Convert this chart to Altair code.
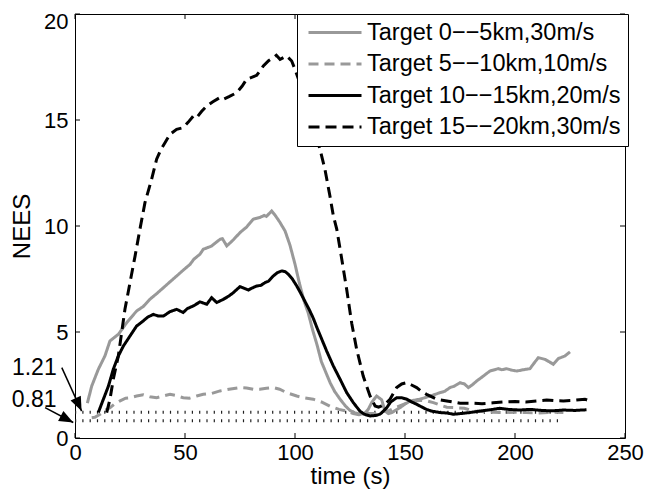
import altair as alt
import pandas as pd

FONT = "Liberation Sans"

names = ["Target 0−−5km,30m/s", "Target 5−−10km,10m/s",
         "Target 10−−15km,20m/s", "Target 15−−20km,30m/s"]
colors = ["#999999", "#999999", "#000000", "#000000"]
dashes = [[1, 0], [10, 6], [1, 0], [11, 6]]

# Target 0--5km (gray solid)
t1 = [5.6, 7.6, 10.6, 13.6, 15.9, 19.7, 23.5, 28, 31, 34, 37, 40.2, 43, 46.2, 49, 52.3, 54, 56.8,
      58.3, 62, 65.9, 67, 69, 72, 75, 78, 81, 84, 86, 87, 89.4, 91, 93, 95.5, 97.7, 100, 102, 104,
      106, 108, 110, 112, 114, 116, 118, 120.5, 123, 125, 127, 129.5, 131.5, 133.3, 135, 137.1,
      139.4, 140.9, 142.5, 144, 147.7, 150, 152.3, 156.8, 159, 161.4, 163.5, 165.9, 168, 170.5,
      172.5, 175, 177, 178.8, 180.5, 182.6, 185.6, 188.6, 192.4, 194, 196.2, 198.5, 200.8, 203.8,
      206.8, 208.8, 210.6, 213.6, 215.5, 217.4, 219.7, 221, 222.7, 225]
v1 = [1.64, 2.45, 3.24, 3.87, 4.58, 4.89, 5.44, 5.99, 6.2, 6.54, 6.8, 7.09, 7.35, 7.64, 7.9, 8.19,
      8.43, 8.67, 8.9, 9.05, 9.37, 9.4, 9.06, 9.35, 9.69, 9.95, 10.32, 10.4, 10.5, 10.45, 10.71,
      10.5, 10.2, 9.76, 9.1, 8.2, 7.3, 6.5, 5.9, 5.1, 4.4, 3.6, 3.1, 2.6, 2.2, 1.83, 1.5, 1.3, 1.2,
      1.12, 1.15, 1.35, 1.7, 1.98, 1.8, 1.27, 1.15, 1.2, 1.43, 1.6, 1.75, 1.83, 1.9, 1.98, 2.05,
      2.14, 2.2, 2.38, 2.45, 2.61, 2.55, 2.38, 2.5, 2.69, 2.92, 3.16, 3.27, 3.22, 3.27, 3.2, 3.16,
      3.22, 3.27, 3.55, 3.79, 3.71, 3.6, 3.48, 3.75, 3.8, 3.87, 4.06]

# Target 5--10km (gray dashed)
t2 = [7.6, 9, 11.4, 13.5, 15.9, 18, 20.5, 23, 25, 28, 31, 34, 37.1, 40, 43.2, 46, 49.2, 52, 55.3,
      58.3, 62, 65.9, 70, 75, 78, 81, 84, 87, 90.1, 93, 96.2, 100.8, 104, 108.3, 112, 115.9, 120,
      123.5, 126.5, 129, 132.6, 136, 138.6, 143, 146, 150.8, 154, 156.8, 160, 162.9, 166, 169,
      173.5, 177, 181, 185, 190, 195, 200, 205, 210, 215, 218, 222]
v2 = [0.96, 0.98, 1.12, 1.3, 1.43, 1.6, 1.75, 1.88, 1.9, 1.98, 2.04, 1.95, 1.9, 1.98, 2.06, 2.0,
      1.9, 1.88, 1.98, 2.06, 2.1, 2.22, 2.3, 2.38, 2.36, 2.3, 2.3, 2.35, 2.38, 2.3, 2.14, 1.98, 1.9,
      1.83, 1.7, 1.5, 1.35, 1.27, 1.15, 1.1, 1.15, 1.15, 1.22, 1.3, 1.45, 1.65, 1.72, 1.78, 1.75,
      1.67, 1.55, 1.45, 1.43, 1.4, 1.27, 1.25, 1.22, 1.2, 1.22, 1.2, 1.18, 1.2, 1.22, 1.2]

# Target 10--15km (black solid)
t3 = [10.6, 12.9, 15.2, 17.4, 19.7, 22, 25, 28, 31, 33, 35.6, 38, 40.2, 43, 46.2, 49.2, 51, 53.8,
      56.8, 59.9, 62.1, 64.4, 67.4, 70, 72, 75, 78.8, 80, 82.6, 84.5, 86.4, 88, 90.1, 92, 94, 95.5,
      97, 98.8, 100.8, 102.5, 104.5, 106.5, 108.3, 110, 112, 114.4, 117.4, 120.5, 123.5, 126.5,
      129.5, 131.5, 134.1, 136.5, 138.6, 140, 141.7, 143.5, 146.2, 148.5, 150.8, 153, 155.3, 157.5,
      159.8, 162, 165.9, 169, 172, 175, 179.5, 184, 188, 193, 197, 202, 207, 212, 217, 222, 227,
      232.5]
v3 = [1.2, 1.83, 2.45, 3.24, 3.87, 4.34, 4.81, 5.28, 5.52, 5.7, 5.83, 5.75, 5.75, 5.95, 6.07, 5.92,
      6.1, 6.23, 6.42, 6.31, 6.62, 6.39, 6.54, 6.7, 6.86, 7.14, 6.98, 7.05, 7.17, 7.2, 7.33, 7.4,
      7.64, 7.8, 7.88, 7.85, 7.72, 7.5, 7.17, 6.85, 6.45, 6.05, 5.65, 5.2, 4.7, 4.1, 3.4, 2.77, 2.14,
      1.67, 1.27, 1.12, 1.04, 1.06, 1.12, 1.25, 1.43, 1.7, 1.9, 1.9, 1.83, 1.7, 1.59, 1.47, 1.35,
      1.27, 1.2, 1.18, 1.12, 1.15, 1.2, 1.27, 1.32, 1.4, 1.35, 1.32, 1.35, 1.3, 1.28, 1.32, 1.3,
      1.33]

# Target 15--20km (black dashed)
t4 = [14.4, 15.9, 17.4, 19.7, 21.2, 22.7, 25, 27.3, 29.5, 31.8, 34.8, 37.1, 39, 40.9, 43.2, 46.2,
      49.2, 51.5, 53.8, 55.3, 57.5, 59.9, 62.5, 65.9, 67.4, 70, 73.5, 76, 78, 80, 82.6, 84, 85.6,
      88, 90.1, 91.5, 93.2, 96.2, 98.5, 100, 102, 104, 106, 108, 111.4, 113.6, 115.9, 117.4, 119,
      121, 123.5, 125.8, 128, 131, 134.1, 136.4, 138, 139.4, 141, 143.2, 146.2, 148.5, 150.8, 153,
      155.3, 157.5, 159.8, 162, 164.4, 169, 175, 180, 185, 190, 195, 200, 205, 210, 214.4, 218,
      222, 226, 231.8, 234]
v4 = [1.2, 1.83, 2.77, 3.87, 4.97, 6.07, 7.33, 8.58, 9.84, 11.1, 12.2, 13.15, 13.6, 13.93, 14.33,
      14.56, 14.64, 14.9, 15.19, 15.11, 15.4, 15.66, 15.85, 16.06, 15.98, 16.1, 16.29, 16.6, 16.92,
      17.0, 17.11, 17.3, 17.55, 17.8, 17.94, 18.05, 17.86, 18.02, 17.78, 17.39, 16.8, 16.2, 15.5,
      14.8, 13.6, 12.68, 11.4, 10.5, 9.84, 8.6, 7.0, 5.4, 4.2, 2.92, 1.98, 1.51, 1.45, 1.51, 1.6,
      1.83, 2.38, 2.55, 2.61, 2.5, 2.38, 2.2, 2.06, 1.95, 1.83, 1.75, 1.64, 1.64, 1.62, 1.66, 1.7,
      1.72, 1.7, 1.75, 1.79, 1.76, 1.75, 1.77, 1.83, 1.75]

# dotted reference levels
ref_levels = [1.21, 0.81]
ref_start = [0, 0]
ref_end = [221.5, 221.5]

x_ticks = [0, 50, 100, 150, 200, 250]
y_ticks = [0, 5, 10, 15, 20]

# annotations
ann_text = ["1.21", "0.81"]
ann_tx = [-18.5, -18.6]
ann_ty = [3.32, 1.79]
arr_x0 = [-6.0, -13.6]
arr_y0 = [3.32, 1.43]
arr_x1 = [3.0, -0.8]
arr_y1 = [1.27, 0.73]
arr_angle = [155.3, 117.9]

W, H = 550, 424

rows = []
for name, ts, vs in zip(names, [t1, t2, t3, t4], [v1, v2, v3, v4]):
    for k, (t, v) in enumerate(zip(ts, vs)):
        rows.append({"series": name, "t": t, "nees": v, "k": k})
df = pd.DataFrame(rows)

xs = alt.Scale(domain=[0, 250], nice=False)
ys = alt.Scale(domain=[0, 20], nice=False)

x_axis = alt.Axis(values=x_ticks, title="time (s)", ticks=False, domain=False, grid=False,
                  labelPadding=4, titlePadding=1, labelFlush=False)
y_axis = alt.Axis(values=y_ticks, title="NEES", ticks=False, domain=False, grid=False,
                  labelPadding=7, titlePadding=9, labelFlush=False,
                  labelOffset={"condition": {"test": "datum.value == 20", "value": 7}, "value": 0})

ref_df = pd.DataFrame({"lvl": ref_levels, "s": ref_start, "e": ref_end})
ref = alt.Chart(ref_df).mark_rule(color="#222222", strokeWidth=3, strokeDash=[1.2, 6.1]).encode(
    x=alt.X("s:Q", scale=xs, axis=x_axis), x2="e:Q",
    y=alt.Y("lvl:Q", scale=ys, axis=y_axis))

lines = alt.Chart(df).mark_line(strokeWidth=3).encode(
    x=alt.X("t:Q", scale=xs, axis=x_axis),
    y=alt.Y("nees:Q", scale=ys, axis=y_axis),
    color=alt.Color("series:N", scale=alt.Scale(domain=names, range=colors), title=None),
    strokeDash=alt.StrokeDash("series:N", scale=alt.Scale(domain=names, range=dashes), title=None),
    order="k:Q",
)

xt_df = pd.DataFrame({"v": x_ticks})
yt_df = pd.DataFrame({"v": y_ticks})
xb = alt.Chart(xt_df).mark_rule(color="black", strokeWidth=1).encode(
    x=alt.X("v:Q", scale=xs), y=alt.value(H), y2=alt.value(H - 5))
xtp = alt.Chart(xt_df).mark_rule(color="black", strokeWidth=1).encode(
    x=alt.X("v:Q", scale=xs), y=alt.value(0), y2=alt.value(5))
yl = alt.Chart(yt_df).mark_rule(color="black", strokeWidth=1).encode(
    y=alt.Y("v:Q", scale=ys), x=alt.value(0), x2=alt.value(5))
yr = alt.Chart(yt_df).mark_rule(color="black", strokeWidth=1).encode(
    y=alt.Y("v:Q", scale=ys), x=alt.value(W), x2=alt.value(W - 5))

ann_df = pd.DataFrame({"txt": ann_text, "tx": ann_tx, "ty": ann_ty})
texts = alt.Chart(ann_df).mark_text(fontSize=23, font=FONT, align="center", baseline="middle",
                                    color="black").encode(
    x=alt.X("tx:Q", scale=xs), y=alt.Y("ty:Q", scale=ys), text="txt:N")

arr_df = pd.DataFrame({"x0": arr_x0, "y0": arr_y0, "x1": arr_x1, "y1": arr_y1, "ang": arr_angle})
arr_lines = alt.Chart(arr_df).mark_rule(color="black", strokeWidth=1.5).encode(
    x=alt.X("x0:Q", scale=xs), x2="x1:Q", y=alt.Y("y0:Q", scale=ys), y2="y1:Q")
arr_heads = alt.Chart(arr_df).mark_point(shape="M0,0L-0.4,1L0.4,1Z", filled=True, size=800,
                                         color="black", opacity=1).encode(
    x=alt.X("x1:Q", scale=xs), y=alt.Y("y1:Q", scale=ys),
    angle=alt.Angle("ang:Q", scale=None))

chart = alt.layer(ref, lines, xb, xtp, yl, yr, arr_lines, arr_heads, texts).properties(
    width=W, height=H,
    autosize=alt.AutoSizeParams(type="none"),
    padding={"left": 67, "top": 6, "right": 25, "bottom": 53},
).configure_view(
    stroke="black", strokeWidth=1
).configure_axis(
    labelFont=FONT, titleFont=FONT, labelFontSize=22, titleFontSize=24,
    titleFontWeight="normal", labelColor="black", titleColor="black",
).configure_legend(
    orient="none", legendX=222, legendY=0,
    labelFont=FONT, labelFontSize=23.5, labelColor="black",
    symbolType="stroke", symbolSize=2809, symbolStrokeWidth=3,
    strokeColor="black", fillColor="white", padding=7, rowPadding=7.5, clipHeight=23,
    labelOffset=4, symbolOffset=3, labelLimit=400, cornerRadius=0,
)

chart.save("out.html", embed_options={"renderer": "svg", "actions": False})
